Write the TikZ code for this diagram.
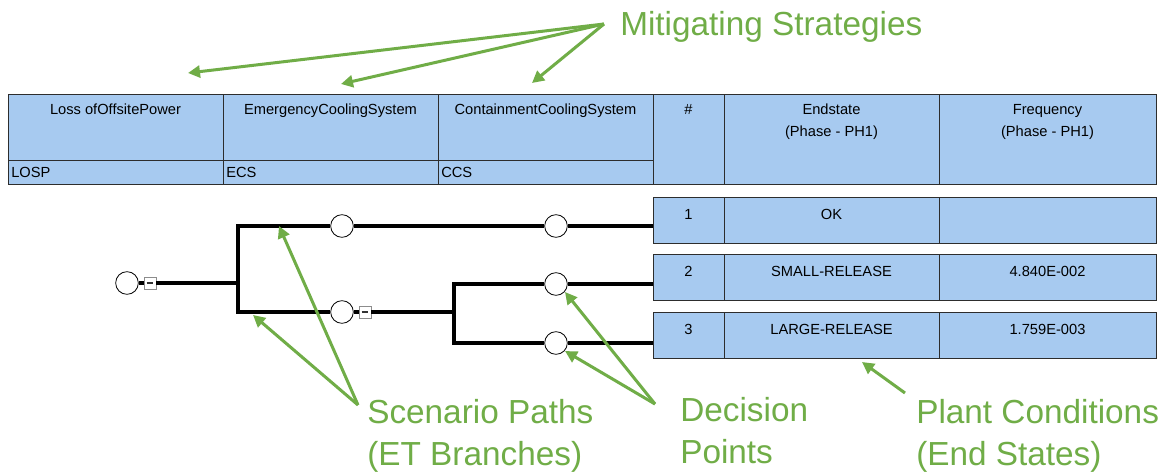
\documentclass[tikz,border=0pt]{standalone}
\usepackage{fontspec}
\setmainfont{Liberation Sans}
\usetikzlibrary{arrows.meta}
\definecolor{callgreen}{RGB}{112,173,71}
\definecolor{cellblue}{RGB}{167,202,240}
\definecolor{rule}{RGB}{45,45,45}

\begin{document}
\begin{tikzpicture}[x=0.75pt,y=-0.75pt,
  cell/.style={draw=rule, fill=cellblue, line width=0.75pt, inner sep=0pt, anchor=north west},
  celltext/.style={font=\fontsize{11}{13}\selectfont, inner sep=0pt, anchor=base},
  codetext/.style={font=\fontsize{11}{13}\selectfont, inner sep=0pt, anchor=base west},
  branch/.style={line width=2.6pt},
  decision/.style={circle, draw=black, fill=white, line width=0.6pt, minimum size=17pt, inner sep=0pt},
  collapse/.style={rectangle, draw=black!45, fill=white, line width=0.6pt, minimum size=9pt, inner sep=0pt},
  callout/.style={draw=callgreen, line width=2.25pt, -{Triangle[length=9pt,width=9pt]}},
  calltext/.style={text=callgreen, font=\fontsize{25}{31.5}\selectfont, align=left, inner sep=0pt, anchor=north west}]

\useasboundingbox[fill=white] (0,0) rectangle (1172,475);

% ---- header: top events ----
\node[cell, minimum width=161.25pt, minimum height=49.5pt] (hLOSP) at (8,94) {};
\node[cell, minimum width=161.25pt, minimum height=49.5pt] (hECS) at (223,94) {};
\node[cell, minimum width=161.25pt, minimum height=49.5pt] (hCCS) at (438,94) {};
\node[cell, minimum width=161.25pt, minimum height=18pt] (cLOSP) at (8,160) {};
\node[cell, minimum width=161.25pt, minimum height=18pt] (cECS) at (223,160) {};
\node[cell, minimum width=161.25pt, minimum height=18pt] (cCCS) at (438,160) {};
\node[cell, minimum width=53.25pt, minimum height=67.5pt] (hNum) at (653,94) {};
\node[cell, minimum width=161.25pt, minimum height=67.5pt] (hEnd) at (724,94) {};
\node[cell, minimum width=162.75pt, minimum height=67.5pt] (hFreq) at (939,94) {};

\node[celltext] (tLOSP) at (115.5,114) {Loss ofOffsitePower};
\node[celltext] (tECS) at (330.5,114) {EmergencyCoolingSystem};
\node[celltext] (tCCS) at (545.5,114) {ContainmentCoolingSystem};
\node[codetext] (kLOSP) at (11,177) {LOSP};
\node[codetext] (kECS) at (226,177) {ECS};
\node[codetext] (kCCS) at (441,177) {CCS};
\node[celltext] (tNum) at (688.5,114) {\#};
\node[celltext] (tEnd) at (831.5,114) {Endstate};
\node[celltext] (tEndPh) at (831.5,136) {(Phase - PH1)};
\node[celltext] (tFreq) at (1047.5,114) {Frequency};
\node[celltext] (tFreqPh) at (1047.5,136) {(Phase - PH1)};

% ---- end-state rows ----
\foreach \r/\y/\es/\fr in {1/197/OK/{}, 2/254/SMALL-RELEASE/4.840E-002, 3/312/LARGE-RELEASE/1.759E-003}{
  \node[cell, minimum width=53.25pt, minimum height=34.5pt] (n\r) at (653,\y) {};
  \node[cell, minimum width=161.25pt, minimum height=34.5pt] (e\r) at (724,\y) {};
  \node[cell, minimum width=162.75pt, minimum height=34.5pt] (f\r) at (939,\y) {};
  \node[celltext] (tn\r) at (688.5,\y+22) {\r};
  \node[celltext] (te\r) at (831.5,\y+22) {\es};
  \node[celltext] (tf\r) at (1047.5,\y+22) {\fr};
}

% ---- event tree ----
\node[decision] (init) at (127,283) {};
\node[collapse] (initx) at (150,283) {};
\coordinate (j1) at (238,283);
\node[decision] (ecsT) at (342,226) {};
\node[decision] (ecsF) at (342,312) {};
\node[collapse] (ecsx) at (365,312) {};
\coordinate (j2) at (454,312);
\node[decision] (ccs1) at (556,226) {};
\node[decision] (ccs2) at (556,284) {};
\node[decision] (ccs3) at (556,343) {};

\draw[branch] (init.east) -- (initx.west);
\draw[branch] (initx.east) -- (j1);
\draw[branch] (ecsT.west) -| (j1) |- (ecsF.west);
\draw[branch] (ecsT.east) -- (ccs1.west);
\draw[branch] (ecsF.east) -- (ecsx.west);
\draw[branch] (ecsx.east) -- (j2);
\draw[branch] (ccs2.west) -| (j2) |- (ccs3.west);
\draw[branch] (ccs1.east) -- (ccs1 -| n1.west);
\draw[branch] (ccs2.east) -- (ccs2 -| n2.west);
\draw[branch] (ccs3.east) -- (ccs3 -| n3.west);

\foreach \b in {initx,ecsx}
  \draw[line width=1pt, black!80] ([xshift=-2.6pt]\b.center) -- ([xshift=2.6pt]\b.center);

% ---- callouts ----
\node[calltext] (ms) at (620,11) {Mitigating Strategies};
\coordinate (msFoot) at (604,24);
\coordinate (aLOSP) at (188,73);
\coordinate (aECS) at (341,84);
\coordinate (aCCS) at (532,83);
\draw[callout] (msFoot) -- (aLOSP);
\draw[callout] (msFoot) -- (aECS);
\draw[callout] (msFoot) -- (aCCS);

\node[calltext] (sp) at (367,399) {Scenario Paths\\(ET Branches)};
\coordinate (spFoot) at (358,405);
\coordinate (aTop) at (279,226);
\coordinate (aBot) at (253,315);
\draw[callout] (spFoot) -- (aTop);
\draw[callout] (spFoot) -- (aBot);

\node[calltext] (dp) at (680,397) {Decision\\Points};
\coordinate (dpFoot) at (655,404);
\coordinate (aC2) at (565,292);
\coordinate (aC3) at (565,351);
\draw[callout] (dpFoot) -- (aC2);
\draw[callout] (dpFoot) -- (aC3);

\node[calltext] (pc) at (916,399) {Plant Conditions\\(End States)};
\coordinate (pcFoot) at (905,393);
\coordinate (aEnd) at (862,362);
\draw[callout] (pcFoot) -- (aEnd);
\end{tikzpicture}
\end{document}
